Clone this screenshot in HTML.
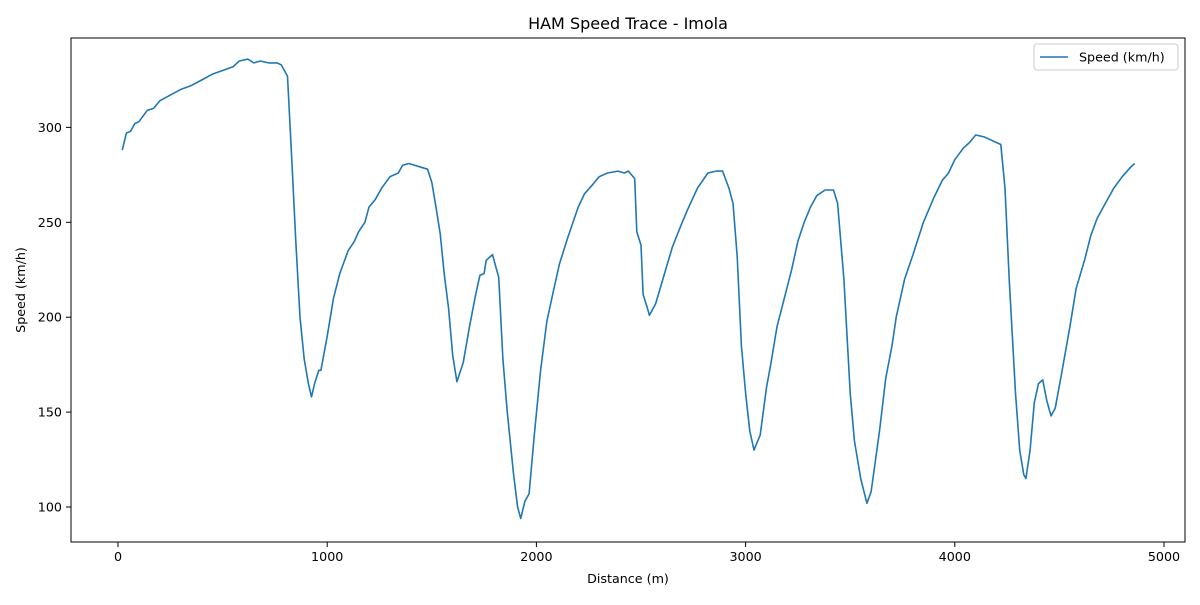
<!DOCTYPE html>
<html><head><meta charset="utf-8"><style>
body{margin:0;background:#fff;font-family:"Liberation Sans","DejaVu Sans",sans-serif}
svg text{font-family:"DejaVu Sans","Liberation Sans",sans-serif;fill:#000}
</style></head><body>
<svg id="chart" width="1200" height="600">
<rect x="0" y="0" width="1200" height="600" fill="#fff"/>
<text x="628" y="29" font-size="16" text-anchor="middle">HAM Speed Trace - Imola</text>
<g id="ticks"></g>
<path id="line" fill="none" stroke="#1f77b4" stroke-width="1.6" stroke-linejoin="round"/>
<rect x="71" y="38" width="1114" height="504" fill="none" stroke="#000" stroke-width="1"/>
<text x="628" y="583" font-size="12.7" text-anchor="middle">Distance (m)</text>
<text transform="translate(25,290) rotate(-90)" font-size="12.7" text-anchor="middle">Speed (km/h)</text>
<g>
<rect x="1034" y="44" width="144" height="26" rx="3" fill="#fff" stroke="#ccc"/>
<line x1="1040" y1="57" x2="1068" y2="57" stroke="#1f77b4" stroke-width="1.6"/>
<text x="1079" y="61.5" font-size="12.7">Speed (km/h)</text>
</g>
</svg>
<script>
const distances=[20,40,60,80,100,140,170,200,250,300,350,400,450,500,550,580,620,650,680,720,760,780,810,830,850,870,890,910,925,940,960,970,1000,1030,1060,1100,1130,1150,1180,1200,1230,1260,1300,1340,1360,1390,1420,1450,1480,1500,1520,1540,1560,1580,1600,1620,1650,1680,1710,1730,1750,1760,1790,1820,1840,1860,1870,1890,1910,1925,1945,1965,1990,2020,2050,2080,2110,2150,2200,2230,2270,2300,2340,2390,2420,2440,2470,2480,2500,2510,2530,2540,2570,2610,2650,2690,2720,2770,2820,2860,2890,2920,2940,2960,2980,3000,3020,3040,3070,3100,3120,3150,3190,3220,3250,3280,3310,3340,3380,3420,3440,3470,3500,3520,3550,3580,3600,3640,3670,3700,3720,3760,3800,3850,3900,3940,3970,4000,4040,4070,4100,4140,4180,4220,4240,4260,4290,4310,4330,4340,4360,4380,4400,4420,4440,4460,4480,4510,4550,4580,4620,4650,4680,4720,4760,4800,4840,4860];
const speeds=[288,297,298,302,303,309,310,314,317,320,322,325,328,330,332,335,336,334,335,334,334,333,327,285,240,200,178,165,158,165,172,172,190,210,223,235,240,245,250,258,262,268,274,276,280,281,280,279,278,271,258,244,222,205,180,166,176,195,212,222,223,230,233,221,178,151,140,118,100,94,103,107,138,172,198,213,228,242,258,265,270,274,276,277,276,277,273,245,238,212,205,201,207,222,237,248,256,268,276,277,277,268,260,232,185,160,140,130,138,163,175,195,212,225,240,250,258,264,267,267,260,220,160,135,115,102,108,140,168,185,200,220,233,250,263,272,276,283,289,292,296,295,293,291,268,220,160,130,117,115,130,155,165,167,156,148,152,170,195,215,230,243,252,260,268,274,279,281];
const xTicks=[0,1000,2000,3000,4000,5000];
const yTicks=[100,150,200,250,300];
const xs=d=>118+d*0.2092;
const ys=v=>507-(v-100)*1.898;
const ns="http://www.w3.org/2000/svg";
const g=document.getElementById('ticks');
xTicks.forEach(t=>{
 const l=document.createElementNS(ns,'line');
 l.setAttribute('x1',xs(t));l.setAttribute('x2',xs(t));l.setAttribute('y1',542);l.setAttribute('y2',547);l.setAttribute('stroke','#000');
 
 
 g.appendChild(l);
 const tx=document.createElementNS(ns,'text');
 tx.setAttribute('x',xs(t));tx.setAttribute('y',561);tx.setAttribute('font-size','12.7');tx.setAttribute('text-anchor','middle');
 tx.textContent=t;
 
 
 g.appendChild(tx);
});
yTicks.forEach(t=>{
 const l=document.createElementNS(ns,'line');
 l.setAttribute('x1',66);l.setAttribute('x2',71);l.setAttribute('y1',ys(t));l.setAttribute('y2',ys(t));l.setAttribute('stroke','#000');
 
 
 g.appendChild(l);
 const tx=document.createElementNS(ns,'text');
 tx.setAttribute('x',62);tx.setAttribute('y',ys(t)+4.5);tx.setAttribute('font-size','12.7');tx.setAttribute('text-anchor','end');
 tx.textContent=t;
 
 
 g.appendChild(tx);
});
document.getElementById('line').setAttribute('d',distances.map((d,i)=>(i?'L':'M')+xs(d).toFixed(1)+','+ys(speeds[i]).toFixed(1)).join(''));
</script>
</body></html>
